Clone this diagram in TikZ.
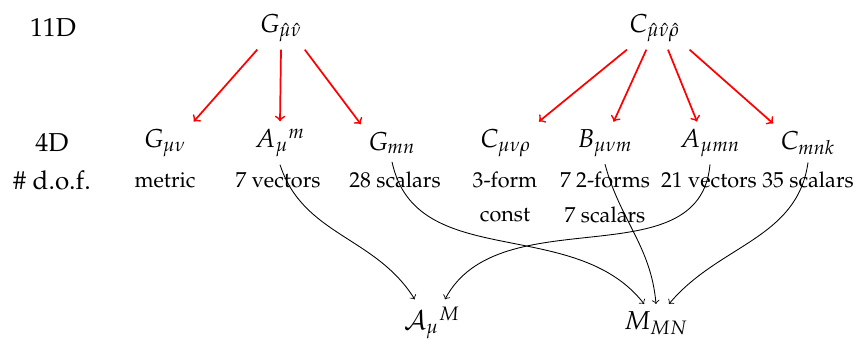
\documentclass[tikz,border=0pt]{standalone}
\usepackage[T1]{fontenc}
\usepackage{mathpazo}
\usepackage{amsmath, amssymb}
\usetikzlibrary{arrows.meta, positioning, calc}

\begin{document}
\begin{tikzpicture}[>=to, x=0.01627cm, y=0.01627cm]
        \useasboundingbox (0,0) rectangle (855,-345);
        \tikzset{reduce/.style={->, thick, red}, combine/.style={->, thin, black},
                 field/.style={font=\large}}

        % Row labels
        \node[field] (lbl11) at (53,-28) {11D};
        \node[field] (lbl4) at (52,-143) {4D};
        \node[field] (lbldof) at (52,-180) {\# d.o.f.};

        % 11D fields
        \node[field] (Ghat) at (281,-28) {$G_{\hat\mu\hat\nu}$};
        \node[field] (Chat) at (655,-28) {$C_{\hat\mu\hat\nu\hat\rho}$};

        % 4D fields
        \node[field] (Gmunu) at (165,-143) {$G_{\mu\nu}$};
        \node[field] (Amum) at (280,-143) {$A_\mu{}^m$};
        \node[field] (Gmn) at (392,-143) {$G_{mn}$};
        \node[field] (Cmunurho) at (506,-143) {$C_{\mu\nu\rho}$};
        \node[field] (Bmunum) at (605,-143) {$B_{\mu\nu m}$};
        \node[field] (Amumn) at (710,-143) {$A_{\mu mn}$};
        \node[field] (Cmnk) at (808,-143) {$C_{mnk}$};

        % Degrees of freedom
        \node (dofa) at (165,-180) {metric};
        \node (dofb) at (278,-180) {7 vectors};
        \node (dofc) at (395,-180) {28 scalars};
        \node (dofd) at (505,-180) {3-form};
        \node (dofe) at (605,-180) {7 2-forms};
        \node (doff) at (709,-180) {21 vectors};
        \node (dofg) at (808,-180) {35 scalars};
        \node (dofh) at (505,-215) {const};
        \node (dofi) at (605,-215) {7 scalars};

        % Combined fields
        \node[field] (AM) at (432,-323) {$\mathcal{A}_\mu{}^M$};
        \node[field] (MMN) at (656,-323) {$M_{MN}$};

        % Splitting the metric
        \draw[reduce] ([xshift=-11pt]Ghat.south) -- (Gmunu.north east);
        \draw[reduce] (Ghat.south) -- (Amum.north);
        \draw[reduce] ([xshift=11pt]Ghat.south) -- (Gmn.north west);

        % Splitting the 3-form
        \draw[reduce] ([xshift=-13pt]Chat.south) -- (Cmunurho.north east);
        \draw[reduce] ([xshift=-4pt]Chat.south) -- ([xshift=4pt]Bmunum.north);
        \draw[reduce] ([xshift=6pt]Chat.south) -- ([xshift=-6pt]Amumn.north);
        \draw[reduce] ([xshift=16pt]Chat.south) -- (Cmnk.north west);

        % Into the duality covariant fields
        \draw[combine] (Amum.south) to[out=-72, in=122] ([xshift=-8pt]AM.north);
        \draw[combine] (Amumn.south) to[out=-95, in=62] ([xshift=6pt]AM.north);
        \draw[combine] (Gmn.south) to[out=-78, in=128] ([xshift=-5.5pt]MMN.north);
        \draw[combine] (Bmunum.south) to[out=-75, in=95] (MMN.north);
        \draw[combine] (Cmnk.south) to[out=-98, in=50] ([xshift=6pt]MMN.north);
\end{tikzpicture}
\end{document}
